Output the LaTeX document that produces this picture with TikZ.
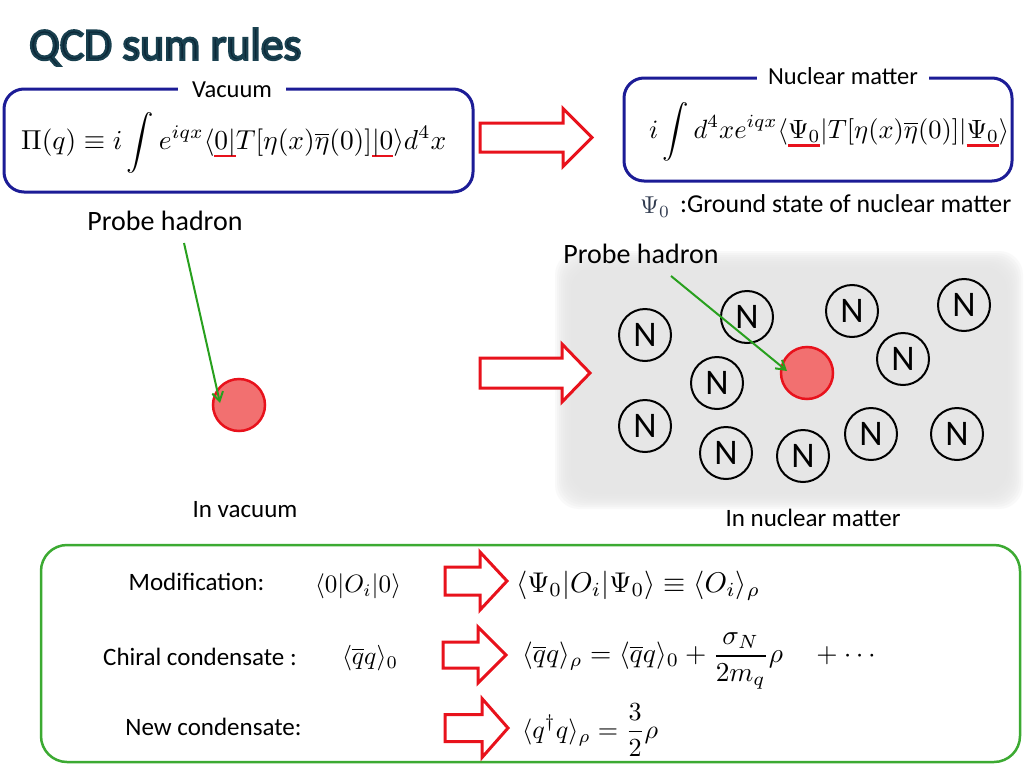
\documentclass[tikz,border=0pt]{standalone}
\usepackage{fontspec}
\setmainfont{Carlito}
\usepackage{amsmath}
\usepackage{graphicx}
\usetikzlibrary{arrows.meta}

\definecolor{boxblue}{RGB}{28,28,150}
\definecolor{arrred}{RGB}{232,18,28}
\definecolor{probefill}{RGB}{242,112,112}
\definecolor{grnbox}{RGB}{60,170,50}
\definecolor{arrgreen}{RGB}{40,160,30}
\definecolor{titlecol}{RGB}{12,40,56}
\definecolor{matter}{RGB}{230,230,230}
\definecolor{psicol}{RGB}{50,60,80}

\newcommand{\fs}[1]{\fontsize{#1}{#1}\selectfont}
\newcommand{\fw}[2]{\resizebox{#1}{!}{$\displaystyle #2$}}
\newcommand{\rulA}[1]{\setbox0\hbox{$#1$}\rlap{\hbox{\color{arrred}\rule[-2.7pt]{\wd0}{1pt}}}\box0}
\newcommand{\rulB}[1]{\setbox0\hbox{$#1$}\rlap{\hbox{\color{arrred}\rule[-3.2pt]{\wd0}{1pt}}}\box0}
\newcommand{\hollow}[6]{%
  \draw[harrow] (#1,#2-#5) -- (#3,#2-#5) -- (#3,#2-#6) -- (#4,#2) -- (#3,#2+#6) -- (#3,#2+#5) -- (#1,#2+#5) -- cycle;}

\begin{document}
\begin{tikzpicture}[x=1pt,y=-1pt,
  bluebox/.style={draw=boxblue,line width=3pt,rounded corners=20pt,inner sep=0pt},
  boxlbl/.style={fill=white,font=\fs{24.5},inner ysep=2pt},
  lbl/.style={font=\fs{25},inner sep=0pt},
  probelbl/.style={font=\fs{28},inner sep=0pt},
  nuc/.style={circle,draw=black,line width=2pt,minimum size=52pt,inner sep=0pt,font=\fs{36}},
  probe/.style={circle,draw=arrred,fill=probefill,line width=2.5pt,minimum size=52pt,inner sep=0pt},
  garrow/.style={draw=arrgreen,line width=2pt,-{Straight Barb[length=9pt,width=11pt]}},
  harrow/.style={draw=arrred,fill=white,line width=3pt,line join=miter},
  math/.style={inner sep=0pt}]
\useasboundingbox[fill=white] (0,0) rectangle (1024,768);

% nuclear matter background
\foreach \i in {0,...,13}
  \fill[matter,opacity=0.22,rounded corners=24pt] (555+\i*2,251+\i*2) rectangle (1023-\i*2,509-\i*2);

% title
\node[anchor=west,inner sep=0pt,font=\fs{45.5}] (title) at (29,47)
  {\color{titlecol}\special{pdf:literal direct 2 Tr 2.2 w 0.1 0.25 0.31 RG}QCD sum rules\special{pdf:literal direct 0 Tr 1 w}};

% vacuum box
\node[bluebox,minimum width=469pt,minimum height=103pt] (vbox) at (238.5,140.5) {};
\node[boxlbl,inner xsep=14pt] (vaclbl) at (232,90) {Vacuum};
\node[math,anchor=west] (vform) at (21,143)
  {\fw{425pt}{\Pi(q)\equiv i\int e^{iqx}\langle \rulA{0|}T[\eta(x)\overline{\eta}(0)]\rulA{|0}\rangle d^4x}};

% nuclear matter box
\node[bluebox,minimum width=388pt,minimum height=103pt] (nbox) at (818,129.5) {};
\node[boxlbl,inner xsep=11pt] (nmlbl) at (843,76) {Nuclear matter};
\node[math,anchor=west] (nform) at (649,132)
  {\fw{360pt}{i\int d^4x e^{iqx}\langle\rulB{\Psi_0}|T[\eta(x)\overline{\eta}(0)]|\rulB{\Psi_0}\rangle}};
\node[math,anchor=west,text=psicol] (psi) at (640,207) {\fw{30pt}{\Psi_0}};
\node[lbl,anchor=west,font=\fs{25.8}] (gs) at (680,204) {:Ground state of nuclear matter};

% big arrows top / middle
\hollow{480}{137.5}{563}{592}{14.5}{29}
\hollow{480}{373}{562}{590}{15}{29}

% vacuum probe
\node[probelbl] (pl1) at (165,221) {Probe hadron};
\node[probe] (p1) at (239,405) {};
\coordinate (ps1) at (184,243);
\coordinate (pt1) at (220,403);
\draw[garrow] (ps1) -- (pt1);
\node[lbl] (invac) at (245,510) {In vacuum};

% nuclear matter scene
\node[nuc] (n1) at (645,335) {N};
\node[nuc] (n2) at (747,317) {N};
\node[nuc] (n3) at (852,311) {N};
\node[nuc] (n4) at (964,305) {N};
\node[nuc] (n5) at (903,359) {N};
\node[nuc] (n6) at (717,383) {N};
\node[nuc] (n7) at (645,426) {N};
\node[nuc] (n8) at (726,453) {N};
\node[nuc] (n9) at (803,456) {N};
\node[nuc] (n10) at (871,434) {N};
\node[nuc] (n11) at (957,434) {N};
\node[probe] (p2) at (807,373) {};
\node[probelbl] (pl2) at (641,254) {Probe hadron};
\coordinate (ps2) at (671,276);
\coordinate (pt2) at (787,371);
\draw[garrow] (ps2) -- (pt2);
\node[lbl] (innm) at (813,518) {In nuclear matter};

% bottom box
\node[draw=grnbox,line width=2.5pt,rounded corners=26pt,minimum width=979pt,minimum height=217pt,inner sep=0pt] (gbox) at (530.5,653.5) {};

\node[lbl] (mod) at (196.5,582) {Modification:};
\node[math] (m1) at (358,586) {\fw{86pt}{\langle 0|O_i|0\rangle}};
\hollow{445}{581}{480}{507}{14}{29}
\node[math,anchor=west] (m2) at (516,586) {\fw{244pt}{\langle\Psi_0|O_i|\Psi_0\rangle\equiv\langle O_i\rangle_\rho}};

\node[lbl] (chi) at (200,657) {Chiral condensate :};
\node[math] (c1) at (370,658) {\fw{56pt}{\langle\overline{q}q\rangle_0}};
\hollow{443}{655}{478}{506}{13}{28}
\node[math,anchor=west] (c2) at (522,661) {\fw{358pt}{\langle\overline{q}q\rangle_\rho=\langle\overline{q}q\rangle_0+\frac{\sigma_N}{2m_q}\rho\quad+\cdots}};

\node[lbl] (newc) at (213.5,727) {New condensate:};
\hollow{445}{728}{482}{508}{13.5}{29.5}
\node[math,anchor=west] (n3f) at (522,730) {\fw{136pt}{\langle q^\dagger q\rangle_\rho=\frac{3}{2}\rho}};
\end{tikzpicture}
\end{document}
